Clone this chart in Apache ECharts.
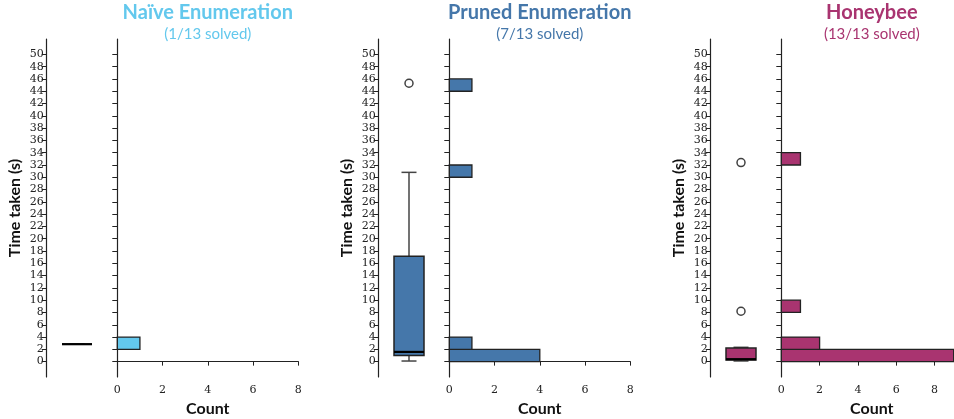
<!DOCTYPE html>
<html>
<head>
<meta charset="utf-8">
<script src="https://cdn.jsdelivr.net/npm/echarts@6/dist/echarts.min.js"></script>
<style>
  html, body { margin: 0; padding: 0; background: #fff; }
  #chart { width: 954px; height: 419px; }
</style>
</head>
<body>
<div id="chart"></div>
<script>
// panel titles and colours
var methods = ['Naïve Enumeration', 'Pruned Enumeration', 'Honeybee'];
var solved = ['(1/13 solved)', '(7/13 solved)', '(13/13 solved)'];
var colors = ['#63c8ed', '#4577aa', '#a93470'];

// box plot stats: [min, q1, median, q3, max] (whiskers + box)
var naiveBox = [2.84, 2.84, 2.84, 2.84, 2.84];
var prunedBox = [0.1, 1.0, 1.58, 17.16, 30.8];
var honeyBox = [0.11, 0.25, 0.4, 2.2, 2.33];

// fliers
var naiveOutliers = [];
var prunedOutliers = [45.3];
var honeyOutliers = [8.2, 32.4];

// histograms: [bin start, count], bins 2 s wide
var binWidth = 2;
var naiveHist = [[2, 1]];
var prunedHist = [[0, 4], [2, 1], [30, 1], [44, 1]];
var honeyHist = [[0, 9], [2, 2], [8, 1], [32, 1]];

var timeTicks = [0, 2, 4, 6, 8, 10, 12, 14, 16, 18, 20, 22, 24, 26, 28, 30, 32, 34, 36, 38, 40, 42, 44, 46, 48, 50];
var countTicks = [0, 2, 4, 6, 8];
var countMax = [8, 8, 9.45];

var boxes = [naiveBox, prunedBox, honeyBox];
var outliers = [naiveOutliers, prunedOutliers, honeyOutliers];
var hists = [naiveHist, prunedHist, honeyHist];

var serifFont = '"DejaVu Serif", "Liberation Serif", serif';
var sansFont = 'Lato, "Open Sans", sans-serif';

var gridTop = 39, gridHeight = 338;
var panelStep = 332;
var boxLeft = 46.7, boxWidth = 60.6;
var histLeft = 117.3, histWidth = 181;

var grid = [], xAxis = [], yAxis = [], series = [], title = [];

function timeAxis(idx, labels) {
  return {
    type: 'value', gridIndex: idx, min: -2.5, max: 52.5,
    name: labels ? 'Time taken (s)' : '',
    nameLocation: 'middle', nameGap: 24,
    nameTextStyle: { fontFamily: sansFont, fontWeight: 'bold', fontSize: 16, color: '#111' },
    splitLine: { show: false },
    axisLine: { show: true, lineStyle: { color: '#222', width: 1.2 } },
    axisTick: { show: true, length: 5, customValues: timeTicks, lineStyle: { color: '#222', width: 1 } },
    axisLabel: labels ? { show: true, customValues: timeTicks, margin: 3, fontFamily: serifFont, fontSize: 11, color: '#222' } : { show: false }
  };
}

function renderBox(params, api) {
  var cx = api.coord([0.5, api.value(2)])[0];
  var yMin = api.coord([0.5, api.value(0)])[1];
  var yQ1 = api.coord([0.5, api.value(1)])[1];
  var yMed = api.coord([0.5, api.value(2)])[1];
  var yQ3 = api.coord([0.5, api.value(3)])[1];
  var yMax = api.coord([0.5, api.value(4)])[1];
  var hw = 15, cw = 7.5;
  var whisk = { stroke: '#444', lineWidth: 1.5 };
  return {
    type: 'group',
    children: [
      { type: 'line', shape: { x1: cx, y1: yQ3, x2: cx, y2: yMax }, style: whisk },
      { type: 'line', shape: { x1: cx, y1: yQ1, x2: cx, y2: yMin }, style: whisk },
      { type: 'line', shape: { x1: cx - cw, y1: yMax, x2: cx + cw, y2: yMax }, style: whisk },
      { type: 'line', shape: { x1: cx - cw, y1: yMin, x2: cx + cw, y2: yMin }, style: whisk },
      { type: 'rect', shape: { x: cx - hw, y: yQ3, width: 2 * hw, height: yQ1 - yQ3 },
        style: { fill: api.visual('color'), stroke: '#222', lineWidth: 1.5 } },
      { type: 'line', shape: { x1: cx - hw, y1: yMed, x2: cx + hw, y2: yMed }, style: { stroke: '#000', lineWidth: 2.2 } }
    ]
  };
}

function renderBar(params, api) {
  var start = api.value(0), count = api.value(1);
  var p0 = api.coord([0, start + binWidth]);
  var p1 = api.coord([count, start]);
  return {
    type: 'rect',
    shape: { x: p0[0], y: p0[1], width: p1[0] - p0[0], height: p1[1] - p0[1] },
    style: { fill: api.visual('color'), stroke: '#222', lineWidth: 1.3 }
  };
}

for (var i = 0; i < 3; i++) {
  var bg = i * 2, hg = i * 2 + 1;
  var off = i * panelStep;
  // outerBoundsMode none: keep the grids exactly where placed (last one runs off the right edge)
  grid.push({ left: boxLeft + off, top: gridTop, width: boxWidth, height: gridHeight, outerBoundsMode: 'none' });
  grid.push({ left: histLeft + off, top: gridTop, width: histWidth, height: gridHeight, outerBoundsMode: 'none' });

  xAxis.push({ type: 'value', gridIndex: bg, min: 0, max: 1, show: false });
  xAxis.push({
    type: 'value', gridIndex: hg, min: 0, max: countMax[i],
    name: 'Count', nameLocation: 'middle', nameGap: 23,
    nameTextStyle: { fontFamily: sansFont, fontWeight: 'bold', fontSize: 16, color: '#111' },
    splitLine: { show: false },
    axisLine: { show: true, lineStyle: { color: '#222', width: 1.2 } },
    axisTick: { show: true, length: 4, customValues: countTicks, lineStyle: { color: '#222' } },
    axisLabel: { customValues: countTicks, margin: 8, fontFamily: serifFont, fontSize: 11, color: '#222' }
  });
  yAxis.push(timeAxis(bg, true));
  yAxis.push(timeAxis(hg, false));

  series.push({
    type: 'custom', xAxisIndex: bg, yAxisIndex: bg,
    itemStyle: { color: colors[i] },
    renderItem: renderBox,
    encode: { y: [0, 1, 2, 3, 4] },
    data: [boxes[i]]
  });
  series.push({
    type: 'scatter', xAxisIndex: bg, yAxisIndex: bg,
    symbol: 'circle', symbolSize: 8,
    itemStyle: { color: '#fff', borderColor: '#111', borderWidth: 1.5 },
    data: outliers[i].map(function (v) { return [0.5, v]; })
  });
  series.push({
    type: 'custom', xAxisIndex: hg, yAxisIndex: hg,
    itemStyle: { color: colors[i] },
    renderItem: renderBar,
    encode: { x: 1, y: 0 },
    data: hists[i]
  });

  title.push({
    text: methods[i], subtext: solved[i],
    left: histLeft + off + histWidth / 2, top: 3, padding: 0, textAlign: 'center', itemGap: 4,
    textStyle: { fontFamily: sansFont, fontWeight: 'bold', fontSize: 20, color: colors[i] },
    subtextStyle: { fontFamily: sansFont, fontSize: 15, color: colors[i] }
  });
}

var chart = echarts.init(document.getElementById('chart'), null, { renderer: 'canvas' });
chart.setOption({
  animation: false,
  backgroundColor: '#fff',
  title: title,
  grid: grid,
  xAxis: xAxis,
  yAxis: yAxis,
  series: series
});
</script>
</body>
</html>
